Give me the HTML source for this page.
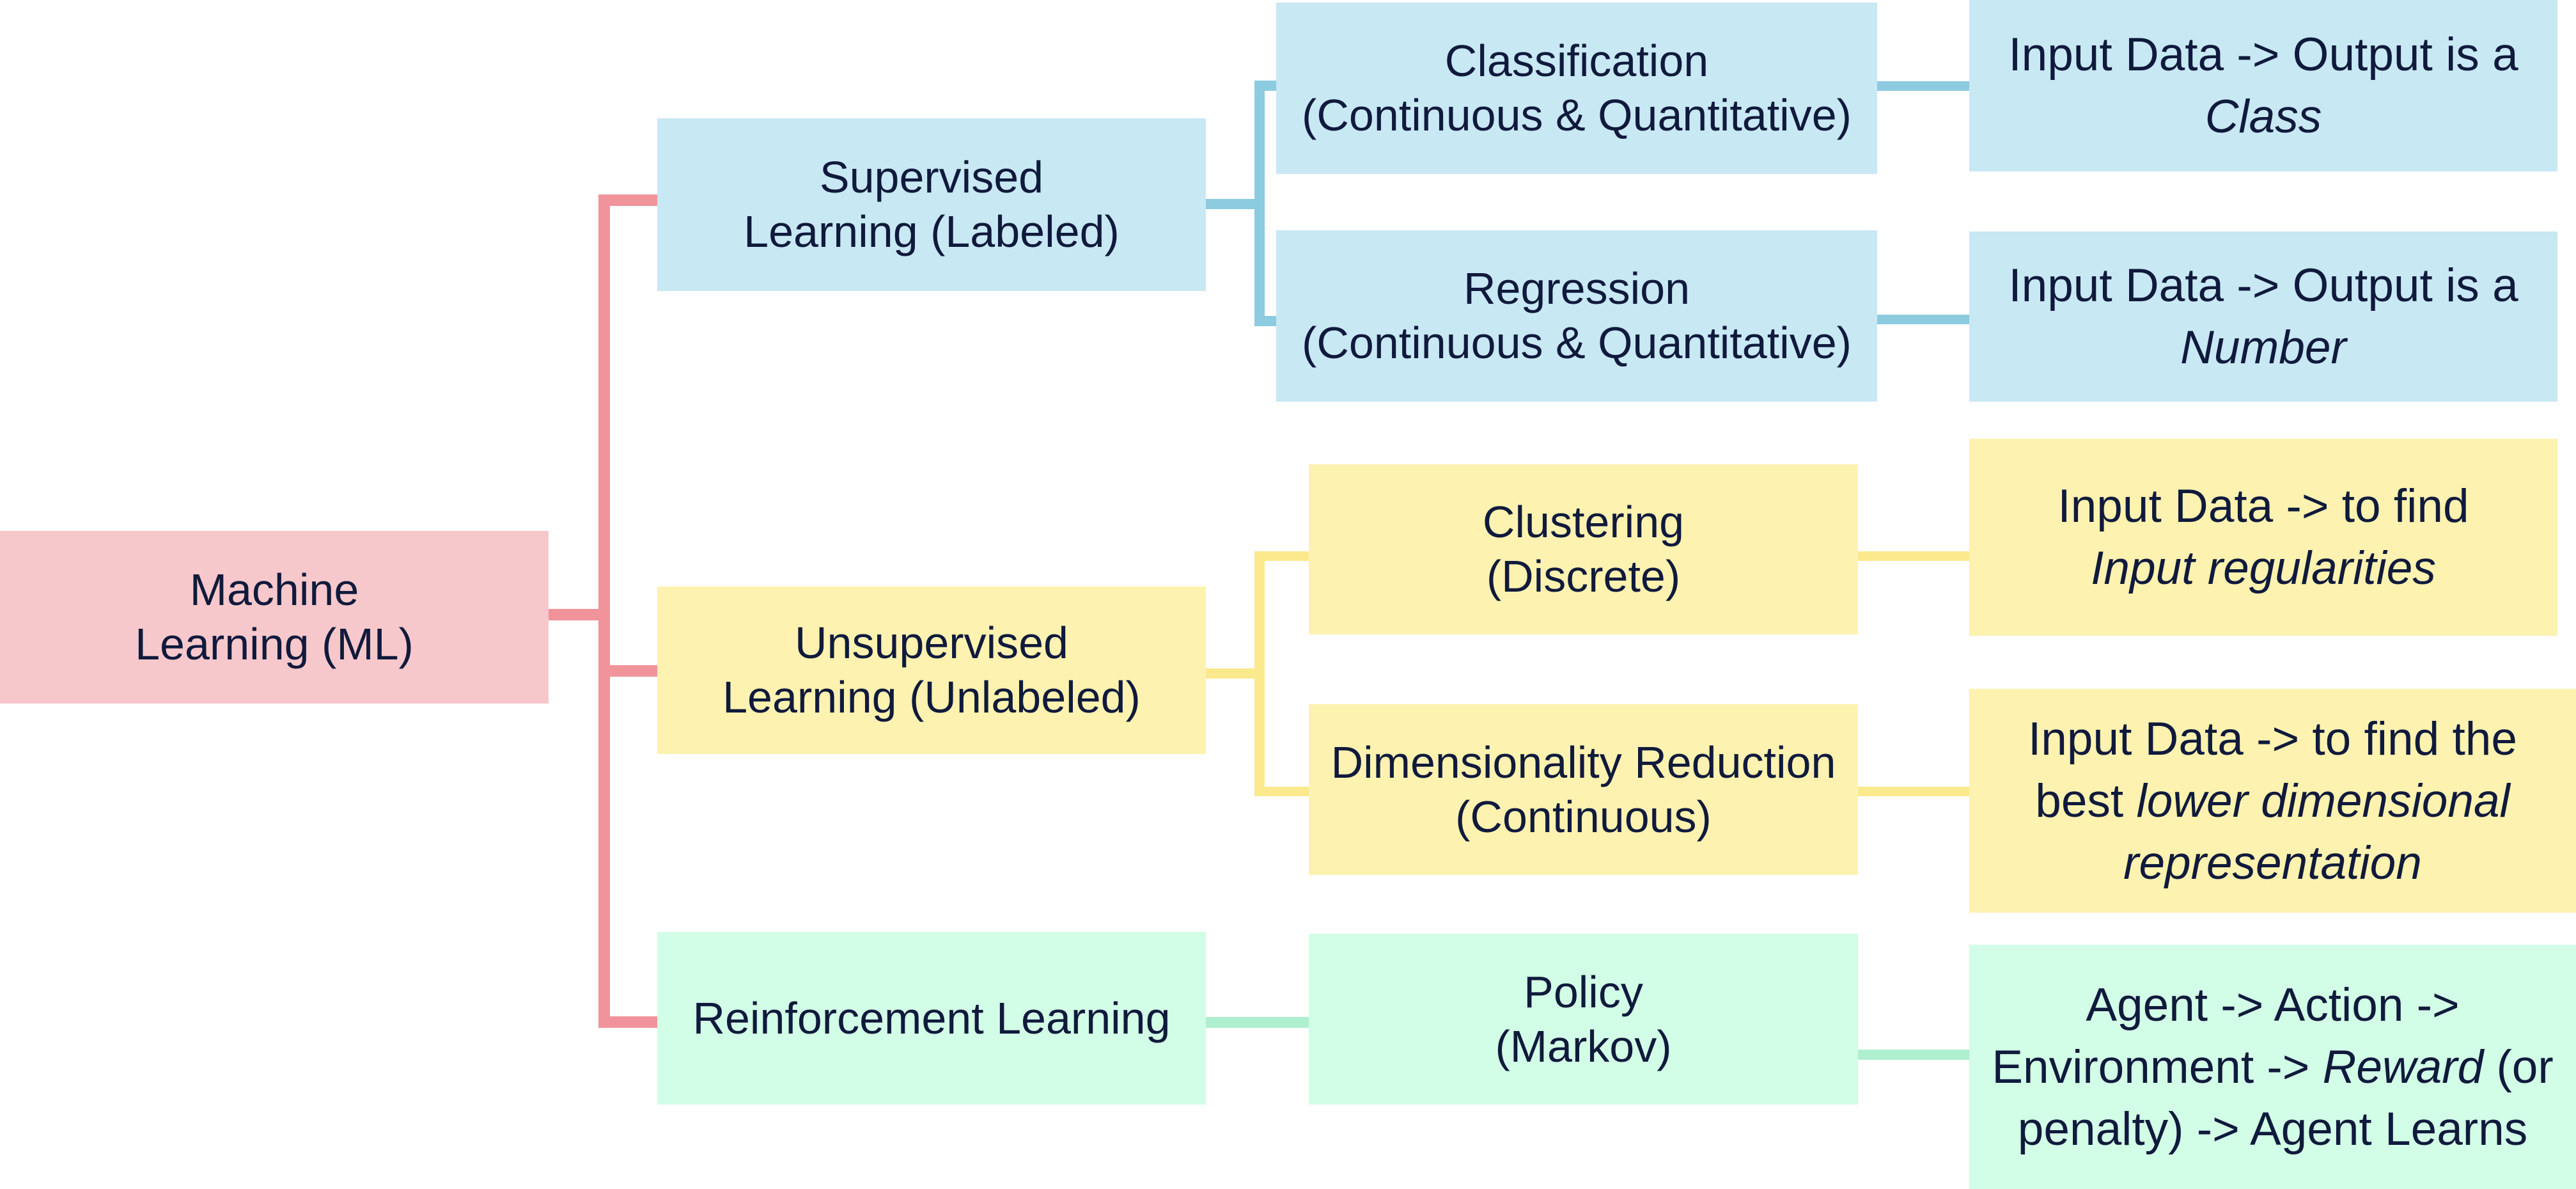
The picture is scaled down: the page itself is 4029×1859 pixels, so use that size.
<!DOCTYPE html>
<html><head><meta charset="utf-8"><style>
html,body{margin:0;padding:0;}
body{width:4029px;height:1859px;position:relative;background:#fff;overflow:hidden;font-family:"Liberation Sans",sans-serif;color:#101a3c;}
.b{position:absolute;display:flex;align-items:center;justify-content:center;text-align:center;white-space:nowrap;font-size:70px;line-height:85px;}
.b>div{display:block;}
.r{font-size:73px;line-height:97px;}
.l{position:absolute;}
.pk{background:#f7c8cb}.pl{background:#f0939a}
.bl{background:#c8e8f4}.bll{background:#8ccbe0}
.ye{background:#fdf2b0}.yl{background:#fbe98e}
.gr{background:#d2fde6}.gl{background:#aeefcf}
i{font-style:italic}
</style></head><body>
<div class="l pl" style="left:858px;top:952px;width:96px;height:18px"></div>
<div class="l pl" style="left:936px;top:304px;width:18px;height:1303px"></div>
<div class="l pl" style="left:936px;top:304px;width:92px;height:18px"></div>
<div class="l pl" style="left:936px;top:1040px;width:92px;height:18px"></div>
<div class="l pl" style="left:936px;top:1589px;width:92px;height:18px"></div>
<div class="l bll" style="left:1886px;top:311px;width:90px;height:16px"></div>
<div class="l bll" style="left:1962px;top:126px;width:16px;height:384px"></div>
<div class="l bll" style="left:1962px;top:126px;width:34px;height:16px"></div>
<div class="l bll" style="left:1962px;top:494px;width:34px;height:16px"></div>
<div class="l bll" style="left:2934px;top:127px;width:148px;height:15px"></div>
<div class="l bll" style="left:2934px;top:492px;width:148px;height:15px"></div>
<div class="l yl" style="left:1886px;top:1045px;width:90px;height:16px"></div>
<div class="l yl" style="left:1962px;top:862px;width:16px;height:383px"></div>
<div class="l yl" style="left:1962px;top:862px;width:86px;height:15px"></div>
<div class="l yl" style="left:1962px;top:1230px;width:86px;height:15px"></div>
<div class="l yl" style="left:2905px;top:862px;width:177px;height:15px"></div>
<div class="l yl" style="left:2905px;top:1230px;width:177px;height:15px"></div>
<div class="l gl" style="left:1886px;top:1590px;width:162px;height:17px"></div>
<div class="l gl" style="left:2905px;top:1641px;width:177px;height:16px"></div>

<div class="b pk" style="left:0;top:830px;width:858px;height:270px"><div>Machine<br>Learning (ML)</div></div>
<div class="b bl" style="left:1028px;top:185px;width:858px;height:270px"><div>Supervised<br>Learning (Labeled)</div></div>
<div class="b ye" style="left:1028px;top:917px;width:858px;height:262px"><div>Unsupervised<br>Learning (Unlabeled)</div></div>
<div class="b gr" style="left:1028px;top:1457px;width:858px;height:270px"><div>Reinforcement Learning</div></div>

<div class="b bl" style="left:1996px;top:4px;width:940px;height:268px"><div>Classification<br>(Continuous &amp; Quantitative)</div></div>
<div class="b bl" style="left:1996px;top:360px;width:940px;height:268px"><div>Regression<br>(Continuous &amp; Quantitative)</div></div>
<div class="b ye" style="left:2047px;top:726px;width:859px;height:266px"><div>Clustering<br>(Discrete)</div></div>
<div class="b ye" style="left:2047px;top:1101px;width:859px;height:267px"><div>Dimensionality Reduction<br>(Continuous)</div></div>
<div class="b gr" style="left:2047px;top:1460px;width:859px;height:267px"><div>Policy<br>(Markov)</div></div>

<div class="b r bl" style="left:3080px;top:0;width:920px;height:268px"><div>Input Data -&gt; Output is a<br><i>Class</i></div></div>
<div class="b r bl" style="left:3080px;top:362px;width:920px;height:266px"><div>Input Data -&gt; Output is a<br><i>Number</i></div></div>
<div class="b r ye" style="left:3080px;top:686px;width:920px;height:308px"><div>Input Data -&gt; to find<br><i>Input regularities</i></div></div>
<div class="b r ye" style="left:3080px;top:1077px;width:949px;height:350px"><div>Input Data -&gt; to find the<br>best <i>lower dimensional</i><br><i>representation</i></div></div>
<div class="b r gr" style="left:3080px;top:1477px;width:949px;height:382px"><div>Agent -&gt; Action -&gt;<br>Environment -&gt; <i>Reward</i> (or<br>penalty) -&gt; Agent Learns</div></div>
</body></html>
